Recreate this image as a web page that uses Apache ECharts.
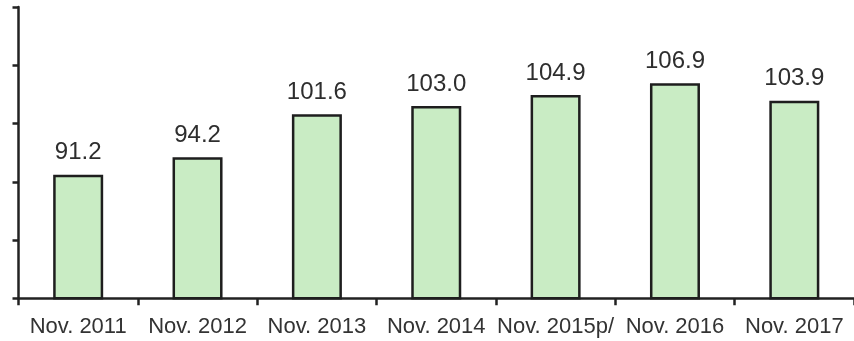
<!DOCTYPE html>
<html>
<head>
<meta charset="utf-8">
<script src="https://cdn.jsdelivr.net/npm/echarts@6/dist/echarts.min.js"></script>
<style>
  html, body { margin: 0; padding: 0; background: #ffffff; }
  #chart { width: 854px; height: 341px; }
</style>
</head>
<body>
<div id="chart"></div>
<script>
// Index values for each November
const categories = ['Nov. 2011', 'Nov. 2012', 'Nov. 2013', 'Nov. 2014', 'Nov. 2015p/', 'Nov. 2016', 'Nov. 2017'];
const values = [91.2, 94.2, 101.6, 103.0, 104.9, 106.9, 103.9];

const axisMin = 70;
const axisMax = 120;
const axisStep = 10;

const chart = echarts.init(document.getElementById('chart'), null, { renderer: 'canvas' });

chart.setOption({
  animation: false,
  backgroundColor: '#ffffff',
  textStyle: { fontFamily: '"Liberation Sans", Arial, sans-serif' },
  grid: { left: 18.5, top: 7, width: 844, bottom: 42.7, containLabel: false },
  xAxis: {
    type: 'category',
    data: categories,
    axisLine: { lineStyle: { color: '#222222', width: 2.5 } },
    axisTick: { show: true, length: 7, inside: false, lineStyle: { color: '#222222', width: 2.5 } },
    axisLabel: {
      interval: 0,
      margin: 18,
      fontSize: 22,
      color: '#333333',
      fontFamily: '"Liberation Sans", Arial, sans-serif'
    },
    splitLine: { show: false }
  },
  yAxis: {
    type: 'value',
    min: axisMin,
    max: axisMax,
    interval: axisStep,
    axisLine: { show: true, lineStyle: { color: '#222222', width: 2.5 } },
    axisTick: { show: true, length: 6, inside: false, lineStyle: { color: '#222222', width: 2.5 } },
    axisLabel: { show: false },
    splitLine: { show: false }
  },
  series: [{
    type: 'bar',
    data: values,
    barWidth: 50,
    itemStyle: {
      color: '#c9ecc4',
      borderColor: '#1e1e1e',
      borderWidth: 2.5
    },
    label: {
      show: true,
      position: 'top',
      distance: 10,
      fontSize: 24,
      color: '#2e2e2e',
      fontFamily: '"Liberation Sans", Arial, sans-serif',
      formatter: p => p.value.toFixed(1)
    }
  }]
});
</script>
</body>
</html>
